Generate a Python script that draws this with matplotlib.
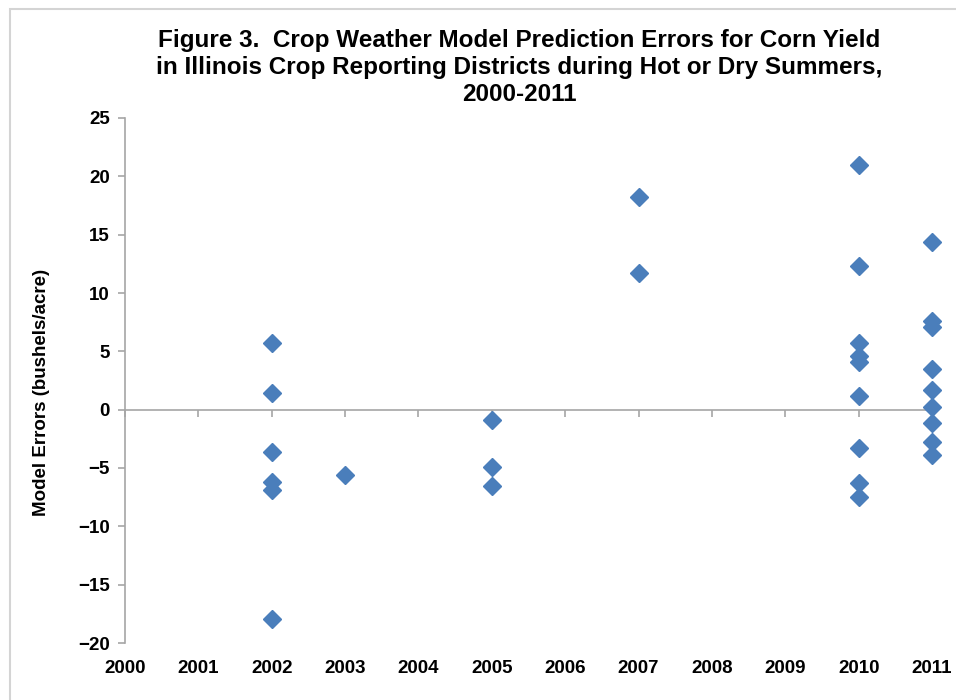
import matplotlib.pyplot as plt
from matplotlib.patches import Rectangle

# model prediction errors (bushels/acre) by year
years_2002 = [5.7, 1.4, -3.6, -6.2, -6.9, -17.9]
years_2003 = [-5.6]
years_2005 = [-0.9, -4.9, -6.5]
years_2007 = [18.2, 11.7]
years_2010 = [21.0, 12.3, 5.7, 4.6, 4.1, 1.2, -3.3, -6.3, -7.5]
years_2011 = [14.4, 7.6, 7.1, 3.5, 1.7, 0.2, -1.1, -2.8, -3.9]

errors_by_year = {2002: years_2002, 2003: years_2003, 2005: years_2005,
                  2007: years_2007, 2010: years_2010, 2011: years_2011}

year_ticks = list(range(2000, 2012))
y_ticks = [-20, -15, -10, -5, 0, 5, 10, 15, 20, 25]

plt.rcParams['font.family'] = ['Liberation Sans', 'DejaVu Sans']
plt.rcParams['font.weight'] = 'bold'

axis_grey = '#a6a6a6'
blue = '#4a7ebb'

fig = plt.figure(figsize=(9.56, 7.0), dpi=100)
ax = fig.add_axes([125 / 956, 1 - 643 / 700, (932 - 125) / 956, (643 - 118) / 700])

# light border of the chart area
fig.patches.append(Rectangle((9.5 / 956, -0.05), 2, 1 - 8.5 / 700 + 0.05,
                             transform=fig.transFigure, fill=False,
                             edgecolor='#d4d4d4', linewidth=1.5))

for yr, vals in errors_by_year.items():
    ax.plot([yr] * len(vals), vals, linestyle='none', marker='D',
            markersize=9.5, color=blue, markeredgecolor=blue, zorder=3,
            clip_on=False)

ax.set_xlim(2000, 2011)
ax.set_ylim(-20, 25)
ax.set_yticks(y_ticks)
ax.set_xticks(year_ticks)
ax.set_xticklabels([str(y) for y in year_ticks])

for side in ['top', 'right', 'bottom']:
    ax.spines[side].set_visible(False)
ax.spines['left'].set_color(axis_grey)
ax.spines['left'].set_linewidth(1.2)

ax.tick_params(axis='y', direction='out', length=5, width=1.2, color=axis_grey,
               labelsize=13.5, pad=6)
ax.tick_params(axis='x', length=0, labelsize=13.5, pad=12)

# horizontal axis line crossing at zero, with its own tick marks
zero_axis = ax.secondary_xaxis(0, transform=ax.transData)
zero_axis.set_xticks(year_ticks)
zero_axis.tick_params(direction='out', length=5, width=1.2, color=axis_grey,
                      labelbottom=False)
zero_axis.spines['bottom'].set_color(axis_grey)
zero_axis.spines['bottom'].set_linewidth(1.2)

for lab in ax.get_xticklabels() + ax.get_yticklabels():
    lab.set_fontweight('bold')

ax.set_ylabel('Model Errors (bushels/acre)', fontsize=13.5, fontweight='bold')
ax.yaxis.set_label_coords(-0.093, 0.478)

fig.text(0.543, 0.959, 'Figure 3.  Crop Weather Model Prediction Errors for Corn Yield\n'
         'in Illinois Crop Reporting Districts during Hot or Dry Summers,\n'
         '2000-2011', ha='center', va='top', fontsize=17.5, fontweight='bold',
         linespacing=1.24)

fig.savefig('out.png', dpi=100)
